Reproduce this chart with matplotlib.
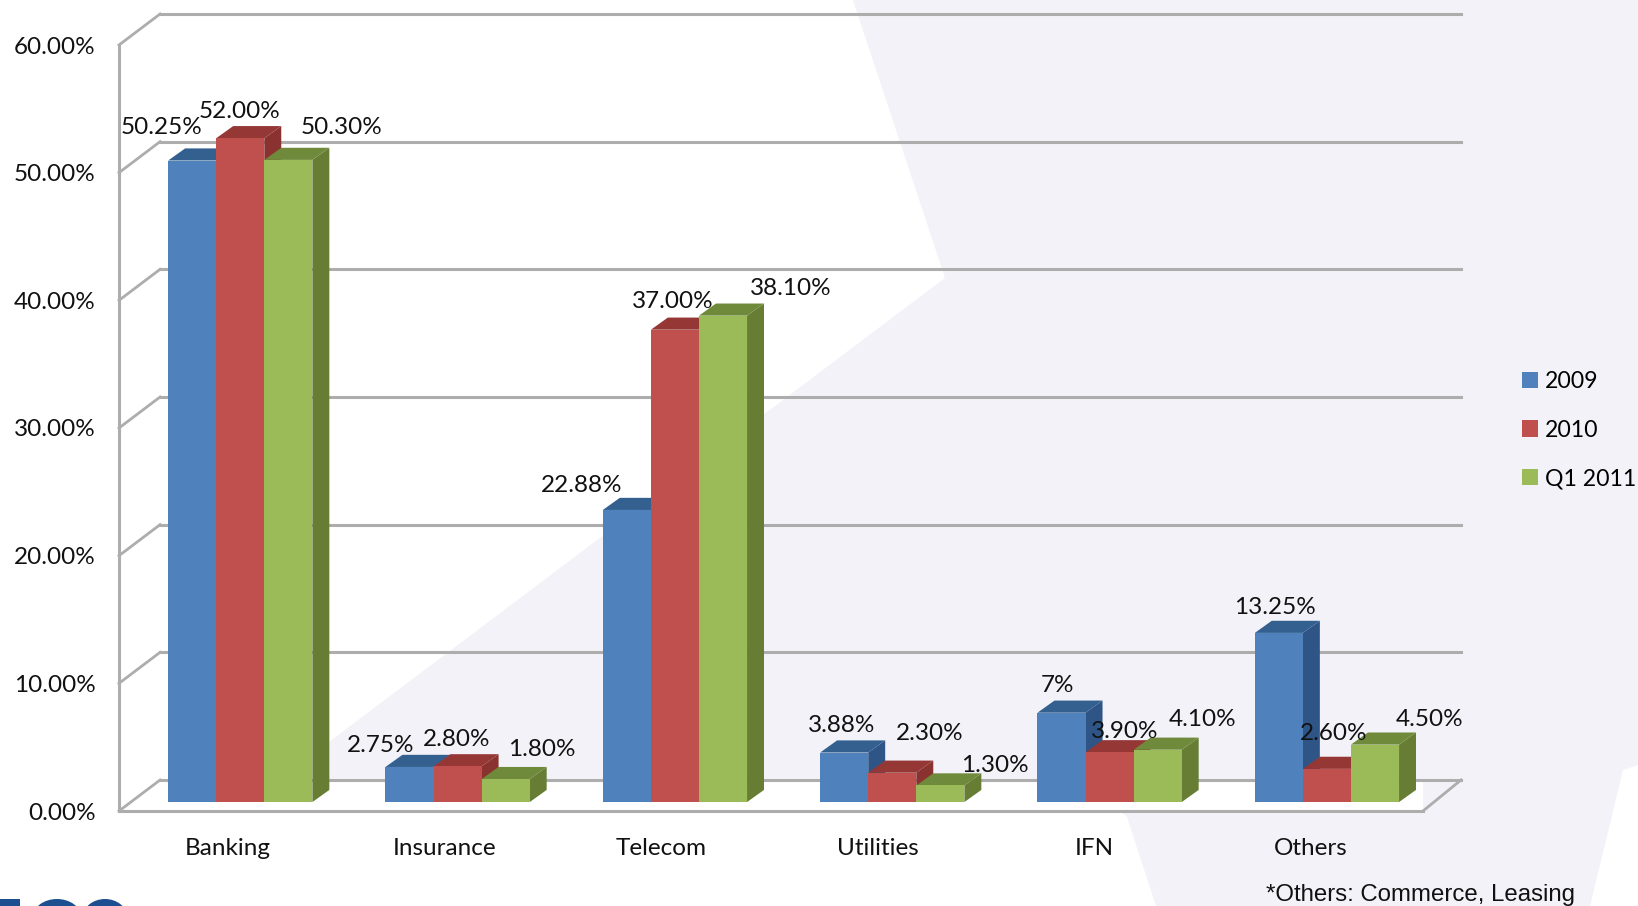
import matplotlib
matplotlib.use("Agg")
import matplotlib.pyplot as plt
from matplotlib.patches import Polygon, Patch, Ellipse, Rectangle

# Data
categories = ['Banking', 'Insurance', 'Telecom', 'Utilities', 'IFN', 'Others']
series_names = ['2009', '2010', 'Q1 2011']
values_2009 = [50.25, 2.75, 22.88, 3.88, 7.0, 13.25]
values_2010 = [52.0, 2.8, 37.0, 2.3, 3.9, 2.6]
values_q1 = [50.3, 1.8, 38.1, 1.3, 4.1, 4.5]
labels_2009 = ['50.25%', '2.75%', '22.88%', '3.88%', '7%', '13.25%']
labels_2010 = ['52.00%', '2.80%', '37.00%', '2.30%', '3.90%', '2.60%']
labels_q1 = ['50.30%', '1.80%', '38.10%', '1.30%', '4.10%', '4.50%']
y_ticks = [0, 10, 20, 30, 40, 50, 60]

# Label centres in figure pixels, placed by hand like in the original
label_pos_2009 = [(162, 128), (381, 746), (582, 486), (842, 726), (1058, 686), (1275, 607)]
label_pos_2010 = [(240, 111), (457, 740), (673, 302), (930, 734), (1125, 732), (1334, 734)]
label_pos_q1 = [(342, 127), (542, 750), (791, 288), (995, 765), (1203, 719), (1430, 719)]

# Colours: front, side, top
colors_2009 = ('#4f81bd', '#2f5587', '#33608f')
colors_2010 = ('#c0504d', '#8a3230', '#953735')
colors_q1 = ('#9bbb59', '#667d33', '#6f8a3a')

W, H = 1638, 906
BG = '#f2f2f8'
GRID = '#adadad'
FONT = 'Lato'
FS = 17.5

# 3D look, in data units
wall_dx, wall_dy = 0.189, 2.43
wall_dx_right = 0.175
bar_dx, bar_dy = 0.078, 0.95
bar_w = 0.2212
shift_x, base = 0.058, 0.7
tick_step = 0.9967

fig = plt.figure(figsize=(W / 100, H / 100), dpi=100, facecolor='white')

# Background shapes of the slide, in pixels
bg = fig.add_axes([0, 0, 1, 1], zorder=0)
bg.set_xlim(0, W)
bg.set_ylim(H, 0)
bg.axis('off')
bg.add_patch(Polygon([(853, 0), (W, 0), (W, 765), (1623, 770), (1590, H), (1156, H),
                      (1127, 817), (1090, 782), (325, 782), (325, 745), (945, 278)],
                     fc=BG, ec='none'))
# cut off logo at the bottom edge
logo = '#1c4f8f'
bg.add_patch(Rectangle((0, 899), 20, 10, fc=logo, ec='none'))
bg.add_patch(Ellipse((57, 917), 48, 36, fc=logo, ec='none'))
bg.add_patch(Ellipse((57, 920), 28, 26, fc='white', ec='none'))
bg.add_patch(Ellipse((105, 917), 44, 36, fc=logo, ec='none'))
bg.add_patch(Ellipse((105, 920), 26, 26, fc='white', ec='none'))

# Main axes, the front plane of the 3D box
ax = fig.add_axes([119 / W, 1 - 811 / H, (1423 - 119) / W, (811 - 45) / H], zorder=1)
ax.patch.set_alpha(0)
ax.set_xlim(-0.5, 5.5)
ax.set_ylim(0, 60)

# floor
x0, x1 = -0.5, 5.5
ax.add_patch(Polygon([(x0, 0), (x1, 0), (x1 + wall_dx_right, wall_dy), (x0 + wall_dx, wall_dy)],
                     fc='white', ec='none', zorder=1))
# grid on back wall and the side wall
for t in y_ticks:
    ax.plot([x0 + wall_dx, x1 + wall_dx_right], [t + wall_dy, t + wall_dy], color=GRID, lw=2.2,
            clip_on=False, zorder=1.5)
    ax.plot([x0, x0 + wall_dx], [t, t + wall_dy], color=GRID, lw=2, clip_on=False, zorder=1.5)
ax.plot([x1, x1 + wall_dx_right], [0, wall_dy], color=GRID, lw=2, clip_on=False, zorder=1.5)

# bars, left to right so later ones cover the earlier side faces
all_values = [values_2009, values_2010, values_q1]
all_colors = [colors_2009, colors_2010, colors_q1]
for i in range(len(categories)):
    for j, (vals, cols) in enumerate(zip(all_values, all_colors)):
        left = i + shift_x + (j - 1.5) * bar_w
        right = left + bar_w
        top = vals[i] + base
        z = 2 + i + j * 0.1
        ax.add_patch(Polygon([(right, base), (right + bar_dx, base + bar_dy),
                              (right + bar_dx, top + bar_dy), (right, top)],
                             fc=cols[1], ec='none', zorder=z, clip_on=False))
        ax.add_patch(Polygon([(left, top), (right, top), (right + bar_dx, top + bar_dy),
                              (left + bar_dx, top + bar_dy)],
                             fc=cols[2], ec='none', zorder=z, clip_on=False))
        ax.bar(left, vals[i], width=bar_w, bottom=base, align='edge', color=cols[0],
               zorder=z + 0.01, clip_on=False)

ax.set_xticks([i * tick_step for i in range(len(categories))])
ax.set_xticklabels(categories, fontsize=FS, family=FONT, color='#111111')
ax.set_yticks(y_ticks)
ax.set_yticklabels([f'{t:.2f}%' for t in y_ticks], fontsize=FS, family=FONT, color='#111111')
ax.tick_params(axis='x', length=0, pad=19.5)
ax.tick_params(axis='y', length=0, pad=17)
for s in ['top', 'right']:
    ax.spines[s].set_visible(False)
for s in ['left', 'bottom']:
    ax.spines[s].set_color(GRID)
    ax.spines[s].set_linewidth(2.2)

# value labels
for labels, positions in zip([labels_2009, labels_2010, labels_q1],
                             [label_pos_2009, label_pos_2010, label_pos_q1]):
    for txt, (px, py) in zip(labels, positions):
        fig.text(px / W, 1 - py / H, txt, ha='center', va='center', fontsize=FS, family=FONT,
                 color='#111111', zorder=5)

handles = [Patch(fc=c[0], ec='none') for c in all_colors]
ax.legend(handles, series_names, loc='center left', bbox_to_anchor=(1522 / W, 1 - 430 / H),
          bbox_transform=fig.transFigure, frameon=False,
          prop={'family': FONT, 'size': 16.6}, handlelength=0.7, handleheight=0.7,
          handletextpad=0.28, labelspacing=1.2, borderpad=0, borderaxespad=0)

fig.text(1266 / W, 1 - 895 / H, '*Others: Commerce, Leasing', ha='left', va='center',
         fontsize=17.3, family='Liberation Sans', color='#111111')

fig.savefig('out.png', dpi=100)
